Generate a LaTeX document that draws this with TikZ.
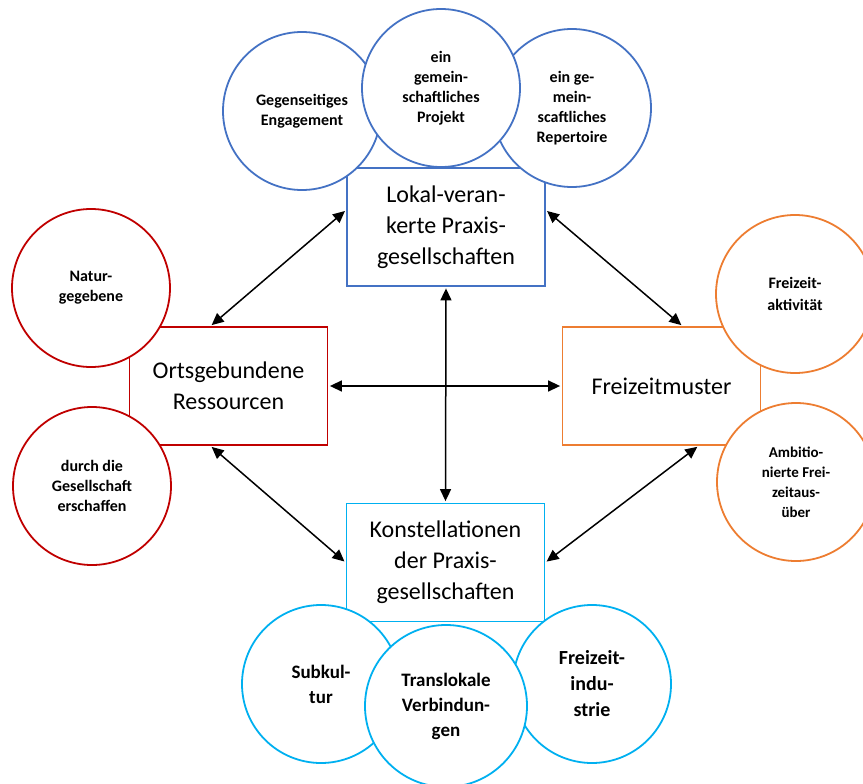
\documentclass[tikz,border=0pt]{standalone}
\usepackage{fontspec}
\setmainfont{Carlito}
\usetikzlibrary{arrows.meta}
\definecolor{lokblau}{HTML}{4472C4}
\definecolor{ortrot}{HTML}{C00000}
\definecolor{freiorange}{HTML}{ED7D31}
\definecolor{konblau}{HTML}{00B0F0}

\begin{document}
\begin{tikzpicture}[x=1pt, y=-1pt, >={Triangle[length=12pt,width=11pt]},
    kasten/.style={draw, line width=1.8pt, fill=white, minimum width=198pt, minimum height=118pt,
        inner sep=0pt, align=center, font=\fontsize{24}{31}\selectfont},
    kreis/.style={circle, draw, line width=1.8pt, fill=white, minimum size=158pt, inner sep=0pt,
        align=center, font=\bfseries\fontsize{16}{20}\selectfont},
    pfeil/.style={<->, line width=1.5pt, shorten <=1.5pt, shorten >=1.5pt}]

        % --- Rahmen des Bildes ---
        \clip (0,0) rectangle (863,784);

        % --- Die vier Kästen ---
        \node[kasten, draw=lokblau] (lok) at (446,227) {Lokal-veran-\\kerte Praxis-\\gesellschaften};
        \node[kasten, draw=ortrot] (ort) at (228.5,386) {Ortsgebundene\\Ressourcen};
        \node[kasten, draw=freiorange] (frei) at (661.5,386) {Freizeitmuster};
        \node[kasten, draw=konblau] (kon) at (445.5,562.5) {Konstellationen\\der Praxis-\\gesellschaften};

        % --- Kreise oben (blau) ---
        \node[kreis, draw=lokblau] (eng) at (302,111) {Gegenseitiges\\Engagement};
        \node[kreis, draw=lokblau] (rep) at (572,108) {ein ge-\\mein-\\scaftliches\\Repertoire};
        \node[kreis, draw=lokblau] (proj) at (441,88) {ein\\gemein-\\schaftliches\\Projekt};

        % --- Kreise links (rot) ---
        \node[kreis, draw=ortrot] (natur) at (91,288) {Natur-\\gegebene};
        \node[kreis, draw=ortrot] (gesell) at (92,486) {durch die\\Gesellschaft\\erschaffen};

        % --- Kreise rechts (orange) ---
        \node[kreis, draw=freiorange, font=\bfseries\fontsize{16}{22}\selectfont] (akt) at (795,294) {Freizeit-\\aktivität};
        \node[kreis, draw=freiorange, font=\bfseries\fontsize{15}{20}\selectfont] (amb) at (796,482) {Ambitio-\\nierte Frei-\\zeitaus-\\über};

        % --- Kreise unten (hellblau) ---
        \node[kreis, draw=konblau, font=\bfseries\fontsize{19}{25}\selectfont] (sub) at (321,684) {Subkul-\\tur};
        \node[kreis, draw=konblau, font=\bfseries\fontsize{20}{26}\selectfont] (ind) at (592,684) {Freizeit-\\indu-\\strie};
        \node[kreis, draw=konblau, minimum size=162pt, font=\bfseries\fontsize{19}{25}\selectfont] (trans) at (446,706) {Translokale\\Verbindun-\\gen};

        % --- Pfeile zwischen den Kästen ---
        \draw[pfeil] ([yshift=17pt]lok.west) -- ([xshift=-18pt]ort.north);
        \draw[pfeil] ([yshift=17pt]lok.east) -- ([xshift=21pt]frei.north);
        \draw[pfeil] (ort.east) -- (frei.west);
        \draw[pfeil] (lok.south) -- (kon.north);
        \draw[pfeil] ([xshift=-18pt]ort.south) -- (kon.west);
        \draw[pfeil] ([xshift=37pt]frei.south) -- (kon.east);
\end{tikzpicture}
\end{document}
